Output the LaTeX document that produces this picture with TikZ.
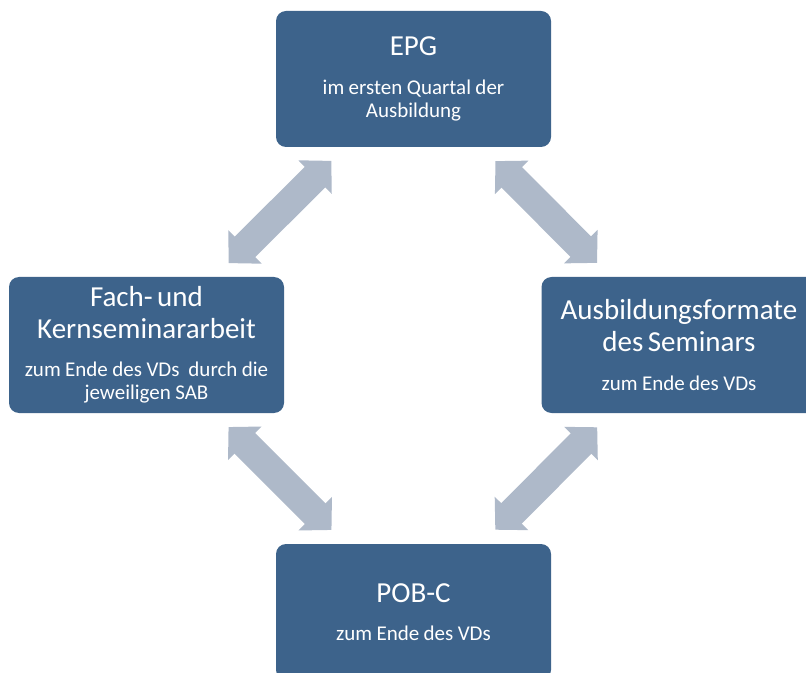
\documentclass[tikz,border=0pt]{standalone}
\usepackage{fontspec}
\setmainfont{Carlito}
\usetikzlibrary{arrows.meta}
\definecolor{boxblue}{RGB}{61,99,139}
\definecolor{arrowgray}{RGB}{174,185,201}
\newcommand{\ttl}{\fontsize{21.75pt}{24pt}\selectfont}
\newcommand{\sbt}{\fontsize{15.75pt}{17.25pt}\selectfont}
\tikzset{
  stage/.style={fill=boxblue, rounded corners=7.5pt, minimum width=206.25pt,
    minimum height=102pt, text width=202pt, align=center, inner sep=0pt, text=white},
  link/.style={draw=arrowgray, line width=21.75pt,
    {Triangle[length=17.25pt,width=34.5pt]}-{Triangle[length=17.25pt,width=34.5pt]},
    shorten <=87pt, shorten >=87pt}
}
\begin{document}
\begin{tikzpicture}[x=0.75pt,y=-0.75pt]
\useasboundingbox (0,0) rectangle (806,673);
\clip (0,0) rectangle (806,673);
\node[stage] (epg) at (413.5,79) {{\ttl EPG\par}\vspace{11.55pt}{\sbt im ersten Quartal der\\ Ausbildung\par}};
\node[stage] (fach) at (146.5,345) {{\ttl Fach- und\\ Kernseminararbeit\par}\vspace{11.55pt}{\sbt zum Ende des VDs\ \ durch die\\ jeweiligen SAB\par}};
\node[stage] (ausb) at (679,345) {{\ttl Ausbildungsformate\\ des Seminars\par}\vspace{11.55pt}{\sbt zum Ende des VDs\par}};
\node[stage] (pob) at (413.5,612) {{\ttl POB-C\par}\vspace{11.55pt}{\sbt zum Ende des VDs\par}};
\draw[link] (fach.center) -- (epg.center);
\draw[link] (epg.center) -- (ausb.center);
\draw[link] (fach.center) -- (pob.center);
\draw[link] (ausb.center) -- (pob.center);
\end{tikzpicture}
\end{document}
